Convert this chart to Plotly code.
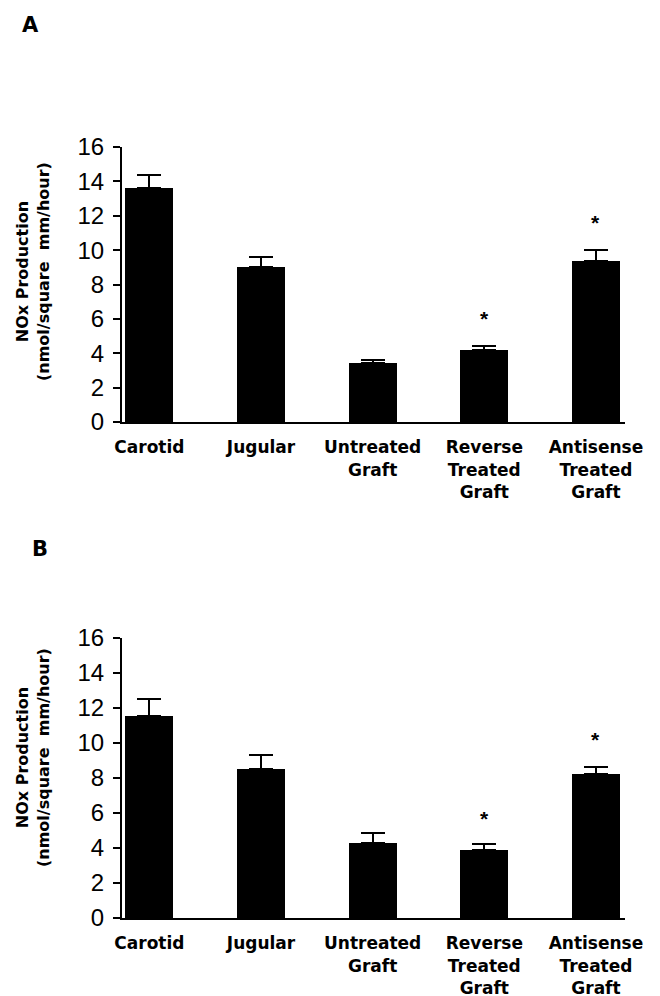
import plotly.graph_objects as go

categories = ["Carotid", "Jugular", "Untreated<br>Graft", "Reverse<br>Treated<br>Graft", "Antisense<br>Treated<br>Graft"]
values_a = [13.6, 9.0, 3.43, 4.19, 9.36]
errors_a = [0.75, 0.6, 0.17, 0.23, 0.64]
values_b = [11.54, 8.5, 4.29, 3.89, 8.23]
errors_b = [0.96, 0.8, 0.57, 0.34, 0.4]
stars_a = [(3, 6.05), (4, 11.6)]
stars_b = [(3, 5.7), (4, 10.2)]
y_ticks = [0, 2, 4, 6, 8, 10, 12, 14, 16]
y_title = "NOx Production<br>(nmol/square&nbsp;&nbsp;mm/hour)"

W, H = 660, 996
OFF = 8  # page body margin compensation

def py(px):
    return 1 - (px - OFF) / H

def pxx(px):
    return (px - OFF) / W

xdom = [pxx(122), pxx(625)]
FONT = "Liberation Sans, Arial, Helvetica, sans-serif"
BFONT = "DejaVu Sans, Liberation Sans, Arial, sans-serif"

fig = go.Figure()
xs = list(range(len(categories)))
for vals, errs, xa, ya in [(values_a, errors_a, "x", "y"), (values_b, errors_b, "x2", "y2")]:
    fig.add_trace(go.Bar(
        x=xs, y=vals, xaxis=xa, yaxis=ya, width=0.43,
        marker=dict(color="black", line=dict(width=0)),
        error_y=dict(type="data", array=errs, arrayminus=[0] * len(errs), symmetric=False,
                     color="black", thickness=2, width=12),
        showlegend=False,
    ))

axis_common_x = dict(
    range=[-0.245, 4.26], tickvals=xs, ticktext=categories, ticks="", showline=True,
    linecolor="black", linewidth=2, showgrid=False, zeroline=False, automargin=False,
    tickfont=dict(family=BFONT, size=17, color="black", weight="bold"),
    ticklabelstandoff=9, fixedrange=True,
)
axis_common_y = dict(
    range=[0, 16], tickvals=y_ticks, ticks="outside", ticklen=7, tickwidth=2, tickcolor="black",
    showline=True, linecolor="black", linewidth=2, showgrid=False, zeroline=False, automargin=False,
    tickfont=dict(family=FONT, size=24, color="black"), ticklabelstandoff=4,
)

fig.update_layout(
    width=W, height=H, margin=dict(l=0, r=0, t=0, b=0, autoexpand=False),
    paper_bgcolor="white", plot_bgcolor="white", bargap=0,
    xaxis=dict(domain=xdom, anchor="y", **axis_common_x),
    yaxis=dict(domain=[py(422), py(147)], anchor="x", **axis_common_y),
    xaxis2=dict(domain=xdom, anchor="y2", **axis_common_x),
    yaxis2=dict(domain=[py(918), py(638)], anchor="x2", **axis_common_y),
)

annotations = []
for (xa, ya, stars) in [("x", "y", stars_a), ("x2", "y2", stars_b)]:
    for sx, sy in stars:
        annotations.append(dict(x=sx, y=sy, xref=xa, yref=ya, text="*", showarrow=False,
                                xanchor="center", yanchor="middle",
                                font=dict(family=FONT, size=21, color="black", weight="bold")))

annotations.append(dict(x=pxx(30), y=py(25), xref="paper", yref="paper", text="A", showarrow=False,
                        xanchor="center", yanchor="middle",
                        font=dict(family=BFONT, size=21, color="black", weight="bold")))
annotations.append(dict(x=pxx(40), y=py(549), xref="paper", yref="paper", text="B", showarrow=False,
                        xanchor="center", yanchor="middle",
                        font=dict(family=BFONT, size=21, color="black", weight="bold")))
for cy in (272, 758):
    annotations.append(dict(x=pxx(33), y=py(cy), xref="paper", yref="paper", text=y_title,
                            textangle=-90, showarrow=False, xanchor="center", yanchor="middle",
                            font=dict(family=BFONT, size=16, color="black", weight="bold")))
fig.update_layout(annotations=annotations)

fig.write_html("out.html")
